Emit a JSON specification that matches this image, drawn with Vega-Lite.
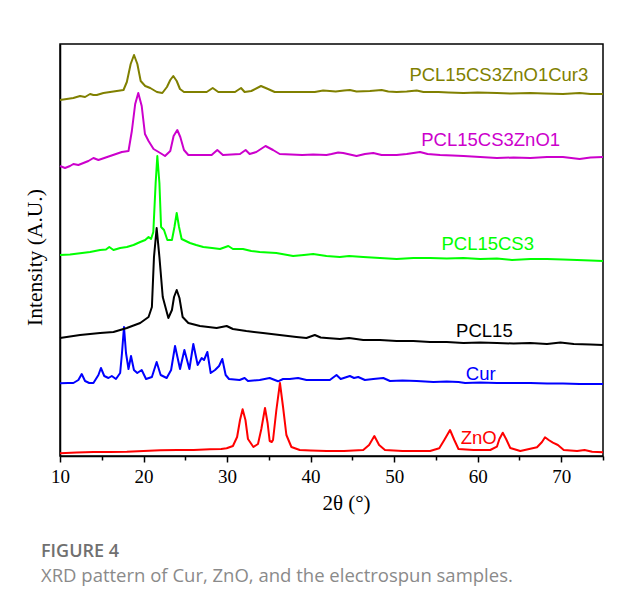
{
  "$schema": "https://vega.github.io/schema/vega-lite/v6.json",
  "width": 543,
  "height": 412,
  "autosize": {"type": "none"},
  "padding": {"left": 60, "top": 44, "right": 14, "bottom": 152},
  "background": "white",
  "config": {
    "view": {"stroke": "black", "strokeWidth": 1.5},
    "axis": {
      "domainColor": "black",
      "domainWidth": 1.5,
      "tickColor": "black",
      "tickWidth": 1.5,
      "grid": false,
      "labelFont": "Liberation Serif",
      "labelFontSize": 19,
      "labelColor": "black",
      "titleFont": "Liberation Serif",
      "titleFontSize": 21,
      "titleFontWeight": "normal",
      "titleColor": "black"
    }
  },
  "title": {
    "text": "FIGURE 4",
    "subtitle": "XRD pattern of Cur, ZnO, and the electrospun samples.",
    "orient": "bottom",
    "anchor": "start",
    "frame": "group",
    "dx": -19,
    "offset": 30,
    "font": "Open Sans",
    "fontSize": 18,
    "fontWeight": 600,
    "color": "#707070",
    "subtitleFont": "Open Sans",
    "subtitleFontSize": 18.5,
    "subtitleColor": "#8a8a8a",
    "subtitlePadding": 6
  },
  "datasets": {
    "patterns": [
      {"sample": "Cur", "twoTheta": 10, "intensity": 72.7},
      {"sample": "Cur", "twoTheta": 11.0, "intensity": 73},
      {"sample": "Cur", "twoTheta": 11.6, "intensity": 73},
      {"sample": "Cur", "twoTheta": 12.2, "intensity": 76},
      {"sample": "Cur", "twoTheta": 12.6, "intensity": 82},
      {"sample": "Cur", "twoTheta": 13.0, "intensity": 75},
      {"sample": "Cur", "twoTheta": 13.5, "intensity": 73},
      {"sample": "Cur", "twoTheta": 14.0, "intensity": 73},
      {"sample": "Cur", "twoTheta": 14.6, "intensity": 81},
      {"sample": "Cur", "twoTheta": 14.9, "intensity": 88},
      {"sample": "Cur", "twoTheta": 15.3, "intensity": 80},
      {"sample": "Cur", "twoTheta": 15.8, "intensity": 78},
      {"sample": "Cur", "twoTheta": 16.2, "intensity": 80},
      {"sample": "Cur", "twoTheta": 16.7, "intensity": 77},
      {"sample": "Cur", "twoTheta": 17.2, "intensity": 83},
      {"sample": "Cur", "twoTheta": 17.42, "intensity": 103},
      {"sample": "Cur", "twoTheta": 17.66, "intensity": 129},
      {"sample": "Cur", "twoTheta": 17.9, "intensity": 103},
      {"sample": "Cur", "twoTheta": 18.2, "intensity": 87},
      {"sample": "Cur", "twoTheta": 18.5, "intensity": 100},
      {"sample": "Cur", "twoTheta": 18.85, "intensity": 86},
      {"sample": "Cur", "twoTheta": 19.25, "intensity": 83},
      {"sample": "Cur", "twoTheta": 19.78, "intensity": 86},
      {"sample": "Cur", "twoTheta": 20.3, "intensity": 77},
      {"sample": "Cur", "twoTheta": 21.0, "intensity": 79},
      {"sample": "Cur", "twoTheta": 21.57, "intensity": 94},
      {"sample": "Cur", "twoTheta": 22.05, "intensity": 81},
      {"sample": "Cur", "twoTheta": 22.77, "intensity": 78},
      {"sample": "Cur", "twoTheta": 23.3, "intensity": 86},
      {"sample": "Cur", "twoTheta": 23.77, "intensity": 110},
      {"sample": "Cur", "twoTheta": 24.37, "intensity": 87},
      {"sample": "Cur", "twoTheta": 24.89, "intensity": 106},
      {"sample": "Cur", "twoTheta": 25.49, "intensity": 87},
      {"sample": "Cur", "twoTheta": 25.96, "intensity": 112},
      {"sample": "Cur", "twoTheta": 26.48, "intensity": 91},
      {"sample": "Cur", "twoTheta": 26.96, "intensity": 98},
      {"sample": "Cur", "twoTheta": 27.24, "intensity": 96},
      {"sample": "Cur", "twoTheta": 27.64, "intensity": 104},
      {"sample": "Cur", "twoTheta": 28.04, "intensity": 83},
      {"sample": "Cur", "twoTheta": 28.56, "intensity": 86},
      {"sample": "Cur", "twoTheta": 29.04, "intensity": 90},
      {"sample": "Cur", "twoTheta": 29.43, "intensity": 97},
      {"sample": "Cur", "twoTheta": 29.83, "intensity": 81},
      {"sample": "Cur", "twoTheta": 30.23, "intensity": 77},
      {"sample": "Cur", "twoTheta": 31.5, "intensity": 76},
      {"sample": "Cur", "twoTheta": 32.1, "intensity": 78},
      {"sample": "Cur", "twoTheta": 32.5, "intensity": 75},
      {"sample": "Cur", "twoTheta": 33.9, "intensity": 76},
      {"sample": "Cur", "twoTheta": 35.1, "intensity": 78},
      {"sample": "Cur", "twoTheta": 36.1, "intensity": 74.7},
      {"sample": "Cur", "twoTheta": 36.7, "intensity": 77},
      {"sample": "Cur", "twoTheta": 37.5, "intensity": 77},
      {"sample": "Cur", "twoTheta": 38.5, "intensity": 78},
      {"sample": "Cur", "twoTheta": 39.5, "intensity": 76},
      {"sample": "Cur", "twoTheta": 41.1, "intensity": 76},
      {"sample": "Cur", "twoTheta": 42.3, "intensity": 76},
      {"sample": "Cur", "twoTheta": 43.1, "intensity": 81},
      {"sample": "Cur", "twoTheta": 43.6, "intensity": 77},
      {"sample": "Cur", "twoTheta": 44.7, "intensity": 80},
      {"sample": "Cur", "twoTheta": 45.2, "intensity": 78},
      {"sample": "Cur", "twoTheta": 45.7, "intensity": 79},
      {"sample": "Cur", "twoTheta": 46.5, "intensity": 76},
      {"sample": "Cur", "twoTheta": 47.5, "intensity": 77},
      {"sample": "Cur", "twoTheta": 48.7, "intensity": 78},
      {"sample": "Cur", "twoTheta": 49.5, "intensity": 75},
      {"sample": "Cur", "twoTheta": 51.0, "intensity": 75.5},
      {"sample": "Cur", "twoTheta": 52.7, "intensity": 75},
      {"sample": "Cur", "twoTheta": 54.7, "intensity": 74},
      {"sample": "Cur", "twoTheta": 56.3, "intensity": 74.5},
      {"sample": "Cur", "twoTheta": 57.7, "intensity": 74},
      {"sample": "Cur", "twoTheta": 58.5, "intensity": 73},
      {"sample": "Cur", "twoTheta": 60.3, "intensity": 73.5},
      {"sample": "Cur", "twoTheta": 62.3, "intensity": 73},
      {"sample": "Cur", "twoTheta": 64.3, "intensity": 73},
      {"sample": "Cur", "twoTheta": 66.3, "intensity": 73},
      {"sample": "Cur", "twoTheta": 68.3, "intensity": 72.5},
      {"sample": "Cur", "twoTheta": 70.2, "intensity": 72.5},
      {"sample": "Cur", "twoTheta": 72.2, "intensity": 72},
      {"sample": "Cur", "twoTheta": 75, "intensity": 72},

      {"sample": "ZnO", "twoTheta": 10, "intensity": 2.7},
      {"sample": "ZnO", "twoTheta": 12, "intensity": 3.5},
      {"sample": "ZnO", "twoTheta": 14, "intensity": 4},
      {"sample": "ZnO", "twoTheta": 16, "intensity": 4},
      {"sample": "ZnO", "twoTheta": 18, "intensity": 4.3},
      {"sample": "ZnO", "twoTheta": 20, "intensity": 5},
      {"sample": "ZnO", "twoTheta": 22, "intensity": 5.7},
      {"sample": "ZnO", "twoTheta": 24, "intensity": 6},
      {"sample": "ZnO", "twoTheta": 26, "intensity": 6},
      {"sample": "ZnO", "twoTheta": 27.95, "intensity": 6.7},
      {"sample": "ZnO", "twoTheta": 29.3, "intensity": 7},
      {"sample": "ZnO", "twoTheta": 29.95, "intensity": 7.7},
      {"sample": "ZnO", "twoTheta": 30.7, "intensity": 10},
      {"sample": "ZnO", "twoTheta": 31.2, "intensity": 19},
      {"sample": "ZnO", "twoTheta": 31.55, "intensity": 36},
      {"sample": "ZnO", "twoTheta": 31.86, "intensity": 46.7},
      {"sample": "ZnO", "twoTheta": 32.2, "intensity": 36},
      {"sample": "ZnO", "twoTheta": 32.5, "intensity": 17},
      {"sample": "ZnO", "twoTheta": 33.15, "intensity": 9},
      {"sample": "ZnO", "twoTheta": 33.7, "intensity": 12},
      {"sample": "ZnO", "twoTheta": 34.1, "intensity": 27},
      {"sample": "ZnO", "twoTheta": 34.54, "intensity": 48},
      {"sample": "ZnO", "twoTheta": 34.85, "intensity": 33},
      {"sample": "ZnO", "twoTheta": 35.1, "intensity": 15},
      {"sample": "ZnO", "twoTheta": 35.35, "intensity": 14},
      {"sample": "ZnO", "twoTheta": 35.5, "intensity": 16},
      {"sample": "ZnO", "twoTheta": 35.9, "intensity": 46},
      {"sample": "ZnO", "twoTheta": 36.33, "intensity": 73},
      {"sample": "ZnO", "twoTheta": 36.7, "intensity": 49},
      {"sample": "ZnO", "twoTheta": 37.1, "intensity": 21},
      {"sample": "ZnO", "twoTheta": 37.7, "intensity": 9},
      {"sample": "ZnO", "twoTheta": 38.7, "intensity": 6},
      {"sample": "ZnO", "twoTheta": 40, "intensity": 5.5},
      {"sample": "ZnO", "twoTheta": 41.9, "intensity": 5},
      {"sample": "ZnO", "twoTheta": 44, "intensity": 5},
      {"sample": "ZnO", "twoTheta": 46.3, "intensity": 6},
      {"sample": "ZnO", "twoTheta": 47.0, "intensity": 11},
      {"sample": "ZnO", "twoTheta": 47.63, "intensity": 20},
      {"sample": "ZnO", "twoTheta": 48.2, "intensity": 11},
      {"sample": "ZnO", "twoTheta": 48.9, "intensity": 6},
      {"sample": "ZnO", "twoTheta": 51, "intensity": 5},
      {"sample": "ZnO", "twoTheta": 54.3, "intensity": 5},
      {"sample": "ZnO", "twoTheta": 55.4, "intensity": 7.7},
      {"sample": "ZnO", "twoTheta": 56.0, "intensity": 16},
      {"sample": "ZnO", "twoTheta": 56.69, "intensity": 26},
      {"sample": "ZnO", "twoTheta": 57.2, "intensity": 16},
      {"sample": "ZnO", "twoTheta": 57.7, "intensity": 7},
      {"sample": "ZnO", "twoTheta": 59.5, "intensity": 6},
      {"sample": "ZnO", "twoTheta": 61.5, "intensity": 6},
      {"sample": "ZnO", "twoTheta": 62.3, "intensity": 9.3},
      {"sample": "ZnO", "twoTheta": 62.6, "intensity": 17},
      {"sample": "ZnO", "twoTheta": 63.0, "intensity": 23.3},
      {"sample": "ZnO", "twoTheta": 63.4, "intensity": 17},
      {"sample": "ZnO", "twoTheta": 63.9, "intensity": 8},
      {"sample": "ZnO", "twoTheta": 65.1, "intensity": 5},
      {"sample": "ZnO", "twoTheta": 66.3, "intensity": 7.3},
      {"sample": "ZnO", "twoTheta": 67.1, "intensity": 8.7},
      {"sample": "ZnO", "twoTheta": 67.7, "intensity": 14},
      {"sample": "ZnO", "twoTheta": 68.06, "intensity": 18.7},
      {"sample": "ZnO", "twoTheta": 68.5, "intensity": 16},
      {"sample": "ZnO", "twoTheta": 69.0, "intensity": 13.3},
      {"sample": "ZnO", "twoTheta": 69.6, "intensity": 11},
      {"sample": "ZnO", "twoTheta": 70.3, "intensity": 6},
      {"sample": "ZnO", "twoTheta": 71.9, "intensity": 5},
      {"sample": "ZnO", "twoTheta": 72.8, "intensity": 6},
      {"sample": "ZnO", "twoTheta": 73.7, "intensity": 4.3},
      {"sample": "ZnO", "twoTheta": 75, "intensity": 3.7},

      {"sample": "PCL15CS3ZnO1Cur3", "twoTheta": 10, "intensity": 356},
      {"sample": "PCL15CS3ZnO1Cur3", "twoTheta": 10.8, "intensity": 357},
      {"sample": "PCL15CS3ZnO1Cur3", "twoTheta": 11.6, "intensity": 358},
      {"sample": "PCL15CS3ZnO1Cur3", "twoTheta": 12.4, "intensity": 360},
      {"sample": "PCL15CS3ZnO1Cur3", "twoTheta": 13.0, "intensity": 359},
      {"sample": "PCL15CS3ZnO1Cur3", "twoTheta": 13.6, "intensity": 362},
      {"sample": "PCL15CS3ZnO1Cur3", "twoTheta": 14.0, "intensity": 361},
      {"sample": "PCL15CS3ZnO1Cur3", "twoTheta": 14.4, "intensity": 361},
      {"sample": "PCL15CS3ZnO1Cur3", "twoTheta": 15.2, "intensity": 363},
      {"sample": "PCL15CS3ZnO1Cur3", "twoTheta": 16.0, "intensity": 364},
      {"sample": "PCL15CS3ZnO1Cur3", "twoTheta": 16.8, "intensity": 365},
      {"sample": "PCL15CS3ZnO1Cur3", "twoTheta": 17.6, "intensity": 366},
      {"sample": "PCL15CS3ZnO1Cur3", "twoTheta": 18.0, "intensity": 374},
      {"sample": "PCL15CS3ZnO1Cur3", "twoTheta": 18.46, "intensity": 392},
      {"sample": "PCL15CS3ZnO1Cur3", "twoTheta": 18.86, "intensity": 401},
      {"sample": "PCL15CS3ZnO1Cur3", "twoTheta": 19.26, "intensity": 392},
      {"sample": "PCL15CS3ZnO1Cur3", "twoTheta": 19.66, "intensity": 375},
      {"sample": "PCL15CS3ZnO1Cur3", "twoTheta": 20.2, "intensity": 370},
      {"sample": "PCL15CS3ZnO1Cur3", "twoTheta": 20.8, "intensity": 368},
      {"sample": "PCL15CS3ZnO1Cur3", "twoTheta": 21.6, "intensity": 364},
      {"sample": "PCL15CS3ZnO1Cur3", "twoTheta": 22.25, "intensity": 363},
      {"sample": "PCL15CS3ZnO1Cur3", "twoTheta": 22.8, "intensity": 369},
      {"sample": "PCL15CS3ZnO1Cur3", "twoTheta": 23.2, "intensity": 376},
      {"sample": "PCL15CS3ZnO1Cur3", "twoTheta": 23.56, "intensity": 380},
      {"sample": "PCL15CS3ZnO1Cur3", "twoTheta": 23.97, "intensity": 375},
      {"sample": "PCL15CS3ZnO1Cur3", "twoTheta": 24.36, "intensity": 367},
      {"sample": "PCL15CS3ZnO1Cur3", "twoTheta": 24.84, "intensity": 364},
      {"sample": "PCL15CS3ZnO1Cur3", "twoTheta": 26.0, "intensity": 364},
      {"sample": "PCL15CS3ZnO1Cur3", "twoTheta": 27.56, "intensity": 364},
      {"sample": "PCL15CS3ZnO1Cur3", "twoTheta": 28.28, "intensity": 368},
      {"sample": "PCL15CS3ZnO1Cur3", "twoTheta": 28.95, "intensity": 364},
      {"sample": "PCL15CS3ZnO1Cur3", "twoTheta": 30.95, "intensity": 364},
      {"sample": "PCL15CS3ZnO1Cur3", "twoTheta": 31.67, "intensity": 368},
      {"sample": "PCL15CS3ZnO1Cur3", "twoTheta": 32.1, "intensity": 364},
      {"sample": "PCL15CS3ZnO1Cur3", "twoTheta": 32.9, "intensity": 365},
      {"sample": "PCL15CS3ZnO1Cur3", "twoTheta": 34.06, "intensity": 370},
      {"sample": "PCL15CS3ZnO1Cur3", "twoTheta": 34.9, "intensity": 367},
      {"sample": "PCL15CS3ZnO1Cur3", "twoTheta": 35.7, "intensity": 364},
      {"sample": "PCL15CS3ZnO1Cur3", "twoTheta": 38, "intensity": 364},
      {"sample": "PCL15CS3ZnO1Cur3", "twoTheta": 40.5, "intensity": 364},
      {"sample": "PCL15CS3ZnO1Cur3", "twoTheta": 41.5, "intensity": 365.5},
      {"sample": "PCL15CS3ZnO1Cur3", "twoTheta": 42.3, "intensity": 365},
      {"sample": "PCL15CS3ZnO1Cur3", "twoTheta": 43.0, "intensity": 364.5},
      {"sample": "PCL15CS3ZnO1Cur3", "twoTheta": 44.0, "intensity": 365.5},
      {"sample": "PCL15CS3ZnO1Cur3", "twoTheta": 44.7, "intensity": 366},
      {"sample": "PCL15CS3ZnO1Cur3", "twoTheta": 45.5, "intensity": 364.5},
      {"sample": "PCL15CS3ZnO1Cur3", "twoTheta": 47.1, "intensity": 365},
      {"sample": "PCL15CS3ZnO1Cur3", "twoTheta": 48.5, "intensity": 366},
      {"sample": "PCL15CS3ZnO1Cur3", "twoTheta": 49.3, "intensity": 364.5},
      {"sample": "PCL15CS3ZnO1Cur3", "twoTheta": 50.3, "intensity": 364},
      {"sample": "PCL15CS3ZnO1Cur3", "twoTheta": 51.5, "intensity": 364.5},
      {"sample": "PCL15CS3ZnO1Cur3", "twoTheta": 52.7, "intensity": 365.5},
      {"sample": "PCL15CS3ZnO1Cur3", "twoTheta": 53.5, "intensity": 364},
      {"sample": "PCL15CS3ZnO1Cur3", "twoTheta": 55.3, "intensity": 364},
      {"sample": "PCL15CS3ZnO1Cur3", "twoTheta": 56.5, "intensity": 363.5},
      {"sample": "PCL15CS3ZnO1Cur3", "twoTheta": 58.3, "intensity": 363},
      {"sample": "PCL15CS3ZnO1Cur3", "twoTheta": 60, "intensity": 363.5},
      {"sample": "PCL15CS3ZnO1Cur3", "twoTheta": 62.3, "intensity": 363},
      {"sample": "PCL15CS3ZnO1Cur3", "twoTheta": 64, "intensity": 362.5},
      {"sample": "PCL15CS3ZnO1Cur3", "twoTheta": 66.3, "intensity": 363},
      {"sample": "PCL15CS3ZnO1Cur3", "twoTheta": 68, "intensity": 362.5},
      {"sample": "PCL15CS3ZnO1Cur3", "twoTheta": 70.2, "intensity": 362},
      {"sample": "PCL15CS3ZnO1Cur3", "twoTheta": 72.2, "intensity": 363},
      {"sample": "PCL15CS3ZnO1Cur3", "twoTheta": 73.5, "intensity": 362},
      {"sample": "PCL15CS3ZnO1Cur3", "twoTheta": 75, "intensity": 362},

      {"sample": "PCL15CS3ZnO1", "twoTheta": 10, "intensity": 290},
      {"sample": "PCL15CS3ZnO1", "twoTheta": 10.6, "intensity": 288},
      {"sample": "PCL15CS3ZnO1", "twoTheta": 11.2, "intensity": 290},
      {"sample": "PCL15CS3ZnO1", "twoTheta": 11.6, "intensity": 292},
      {"sample": "PCL15CS3ZnO1", "twoTheta": 12.2, "intensity": 291},
      {"sample": "PCL15CS3ZnO1", "twoTheta": 12.8, "intensity": 293},
      {"sample": "PCL15CS3ZnO1", "twoTheta": 13.4, "intensity": 295},
      {"sample": "PCL15CS3ZnO1", "twoTheta": 14.0, "intensity": 298},
      {"sample": "PCL15CS3ZnO1", "twoTheta": 14.6, "intensity": 296},
      {"sample": "PCL15CS3ZnO1", "twoTheta": 15.3, "intensity": 298},
      {"sample": "PCL15CS3ZnO1", "twoTheta": 16.0, "intensity": 300},
      {"sample": "PCL15CS3ZnO1", "twoTheta": 16.7, "intensity": 302},
      {"sample": "PCL15CS3ZnO1", "twoTheta": 17.4, "intensity": 304},
      {"sample": "PCL15CS3ZnO1", "twoTheta": 18.2, "intensity": 305},
      {"sample": "PCL15CS3ZnO1", "twoTheta": 18.6, "intensity": 325},
      {"sample": "PCL15CS3ZnO1", "twoTheta": 19.0, "intensity": 352},
      {"sample": "PCL15CS3ZnO1", "twoTheta": 19.37, "intensity": 363},
      {"sample": "PCL15CS3ZnO1", "twoTheta": 19.78, "intensity": 350},
      {"sample": "PCL15CS3ZnO1", "twoTheta": 20.17, "intensity": 322},
      {"sample": "PCL15CS3ZnO1", "twoTheta": 20.6, "intensity": 315},
      {"sample": "PCL15CS3ZnO1", "twoTheta": 21.2, "intensity": 307},
      {"sample": "PCL15CS3ZnO1", "twoTheta": 22.0, "intensity": 303},
      {"sample": "PCL15CS3ZnO1", "twoTheta": 22.57, "intensity": 300},
      {"sample": "PCL15CS3ZnO1", "twoTheta": 23.2, "intensity": 305},
      {"sample": "PCL15CS3ZnO1", "twoTheta": 23.6, "intensity": 320},
      {"sample": "PCL15CS3ZnO1", "twoTheta": 24.04, "intensity": 326},
      {"sample": "PCL15CS3ZnO1", "twoTheta": 24.4, "intensity": 319},
      {"sample": "PCL15CS3ZnO1", "twoTheta": 24.84, "intensity": 306},
      {"sample": "PCL15CS3ZnO1", "twoTheta": 25.36, "intensity": 301},
      {"sample": "PCL15CS3ZnO1", "twoTheta": 28.15, "intensity": 301},
      {"sample": "PCL15CS3ZnO1", "twoTheta": 28.83, "intensity": 306},
      {"sample": "PCL15CS3ZnO1", "twoTheta": 29.5, "intensity": 301},
      {"sample": "PCL15CS3ZnO1", "twoTheta": 31.55, "intensity": 302},
      {"sample": "PCL15CS3ZnO1", "twoTheta": 32.22, "intensity": 306},
      {"sample": "PCL15CS3ZnO1", "twoTheta": 32.7, "intensity": 302},
      {"sample": "PCL15CS3ZnO1", "twoTheta": 33.5, "intensity": 304},
      {"sample": "PCL15CS3ZnO1", "twoTheta": 34.6, "intensity": 310},
      {"sample": "PCL15CS3ZnO1", "twoTheta": 35.5, "intensity": 306},
      {"sample": "PCL15CS3ZnO1", "twoTheta": 36.3, "intensity": 302},
      {"sample": "PCL15CS3ZnO1", "twoTheta": 39, "intensity": 301},
      {"sample": "PCL15CS3ZnO1", "twoTheta": 40.3, "intensity": 301.5},
      {"sample": "PCL15CS3ZnO1", "twoTheta": 41.9, "intensity": 301},
      {"sample": "PCL15CS3ZnO1", "twoTheta": 42.5, "intensity": 302},
      {"sample": "PCL15CS3ZnO1", "twoTheta": 43.3, "intensity": 303.5},
      {"sample": "PCL15CS3ZnO1", "twoTheta": 43.9, "intensity": 303},
      {"sample": "PCL15CS3ZnO1", "twoTheta": 45.5, "intensity": 300},
      {"sample": "PCL15CS3ZnO1", "twoTheta": 46.5, "intensity": 302},
      {"sample": "PCL15CS3ZnO1", "twoTheta": 47.5, "intensity": 303},
      {"sample": "PCL15CS3ZnO1", "twoTheta": 48.5, "intensity": 301},
      {"sample": "PCL15CS3ZnO1", "twoTheta": 50.3, "intensity": 301},
      {"sample": "PCL15CS3ZnO1", "twoTheta": 51.5, "intensity": 302},
      {"sample": "PCL15CS3ZnO1", "twoTheta": 53.1, "intensity": 304},
      {"sample": "PCL15CS3ZnO1", "twoTheta": 54.0, "intensity": 302},
      {"sample": "PCL15CS3ZnO1", "twoTheta": 55.5, "intensity": 301},
      {"sample": "PCL15CS3ZnO1", "twoTheta": 57.0, "intensity": 300.5},
      {"sample": "PCL15CS3ZnO1", "twoTheta": 58.3, "intensity": 300},
      {"sample": "PCL15CS3ZnO1", "twoTheta": 60.3, "intensity": 299},
      {"sample": "PCL15CS3ZnO1", "twoTheta": 62.3, "intensity": 298},
      {"sample": "PCL15CS3ZnO1", "twoTheta": 64.3, "intensity": 298.5},
      {"sample": "PCL15CS3ZnO1", "twoTheta": 66.3, "intensity": 298},
      {"sample": "PCL15CS3ZnO1", "twoTheta": 68.3, "intensity": 299},
      {"sample": "PCL15CS3ZnO1", "twoTheta": 70.2, "intensity": 299},
      {"sample": "PCL15CS3ZnO1", "twoTheta": 72.2, "intensity": 297},
      {"sample": "PCL15CS3ZnO1", "twoTheta": 73.5, "intensity": 298.5},
      {"sample": "PCL15CS3ZnO1", "twoTheta": 75, "intensity": 299},

      {"sample": "PCL15CS3", "twoTheta": 10, "intensity": 201},
      {"sample": "PCL15CS3", "twoTheta": 11.2, "intensity": 201.5},
      {"sample": "PCL15CS3", "twoTheta": 12.4, "intensity": 202.7},
      {"sample": "PCL15CS3", "twoTheta": 13.6, "intensity": 204},
      {"sample": "PCL15CS3", "twoTheta": 14.8, "intensity": 206},
      {"sample": "PCL15CS3", "twoTheta": 15.5, "intensity": 206.5},
      {"sample": "PCL15CS3", "twoTheta": 15.9, "intensity": 209},
      {"sample": "PCL15CS3", "twoTheta": 16.4, "intensity": 206},
      {"sample": "PCL15CS3", "twoTheta": 17.2, "intensity": 208},
      {"sample": "PCL15CS3", "twoTheta": 18.0, "intensity": 209},
      {"sample": "PCL15CS3", "twoTheta": 18.8, "intensity": 211},
      {"sample": "PCL15CS3", "twoTheta": 19.6, "intensity": 214},
      {"sample": "PCL15CS3", "twoTheta": 20.2, "intensity": 216},
      {"sample": "PCL15CS3", "twoTheta": 20.6, "intensity": 219},
      {"sample": "PCL15CS3", "twoTheta": 20.9, "intensity": 217},
      {"sample": "PCL15CS3", "twoTheta": 21.17, "intensity": 224},
      {"sample": "PCL15CS3", "twoTheta": 21.45, "intensity": 273},
      {"sample": "PCL15CS3", "twoTheta": 21.65, "intensity": 300},
      {"sample": "PCL15CS3", "twoTheta": 21.9, "intensity": 273},
      {"sample": "PCL15CS3", "twoTheta": 22.1, "intensity": 229},
      {"sample": "PCL15CS3", "twoTheta": 22.45, "intensity": 226},
      {"sample": "PCL15CS3", "twoTheta": 22.85, "intensity": 216},
      {"sample": "PCL15CS3", "twoTheta": 23.4, "intensity": 216},
      {"sample": "PCL15CS3", "twoTheta": 23.7, "intensity": 229},
      {"sample": "PCL15CS3", "twoTheta": 23.97, "intensity": 243},
      {"sample": "PCL15CS3", "twoTheta": 24.25, "intensity": 229},
      {"sample": "PCL15CS3", "twoTheta": 24.56, "intensity": 217},
      {"sample": "PCL15CS3", "twoTheta": 25.56, "intensity": 213},
      {"sample": "PCL15CS3", "twoTheta": 26.3, "intensity": 211},
      {"sample": "PCL15CS3", "twoTheta": 27.15, "intensity": 209},
      {"sample": "PCL15CS3", "twoTheta": 28.2, "intensity": 208},
      {"sample": "PCL15CS3", "twoTheta": 29.15, "intensity": 207},
      {"sample": "PCL15CS3", "twoTheta": 30.15, "intensity": 210},
      {"sample": "PCL15CS3", "twoTheta": 30.7, "intensity": 207},
      {"sample": "PCL15CS3", "twoTheta": 31.9, "intensity": 207},
      {"sample": "PCL15CS3", "twoTheta": 32.9, "intensity": 205},
      {"sample": "PCL15CS3", "twoTheta": 33.9, "intensity": 204},
      {"sample": "PCL15CS3", "twoTheta": 35.9, "intensity": 203},
      {"sample": "PCL15CS3", "twoTheta": 37.9, "intensity": 200},
      {"sample": "PCL15CS3", "twoTheta": 39.2, "intensity": 201},
      {"sample": "PCL15CS3", "twoTheta": 40.3, "intensity": 202},
      {"sample": "PCL15CS3", "twoTheta": 41.9, "intensity": 200},
      {"sample": "PCL15CS3", "twoTheta": 43.5, "intensity": 199},
      {"sample": "PCL15CS3", "twoTheta": 44.6, "intensity": 200},
      {"sample": "PCL15CS3", "twoTheta": 46.3, "intensity": 199},
      {"sample": "PCL15CS3", "twoTheta": 48.3, "intensity": 198},
      {"sample": "PCL15CS3", "twoTheta": 50.3, "intensity": 197},
      {"sample": "PCL15CS3", "twoTheta": 52.3, "intensity": 198},
      {"sample": "PCL15CS3", "twoTheta": 54.3, "intensity": 198},
      {"sample": "PCL15CS3", "twoTheta": 56.3, "intensity": 197.5},
      {"sample": "PCL15CS3", "twoTheta": 58.3, "intensity": 198},
      {"sample": "PCL15CS3", "twoTheta": 60.3, "intensity": 197},
      {"sample": "PCL15CS3", "twoTheta": 62.3, "intensity": 197.5},
      {"sample": "PCL15CS3", "twoTheta": 64.1, "intensity": 196},
      {"sample": "PCL15CS3", "twoTheta": 66.3, "intensity": 197},
      {"sample": "PCL15CS3", "twoTheta": 68.3, "intensity": 197},
      {"sample": "PCL15CS3", "twoTheta": 70.2, "intensity": 196.5},
      {"sample": "PCL15CS3", "twoTheta": 71.9, "intensity": 196},
      {"sample": "PCL15CS3", "twoTheta": 73.5, "intensity": 195.5},
      {"sample": "PCL15CS3", "twoTheta": 75, "intensity": 195},

      {"sample": "PCL15", "twoTheta": 10, "intensity": 118},
      {"sample": "PCL15", "twoTheta": 11.2, "intensity": 119.5},
      {"sample": "PCL15", "twoTheta": 12.4, "intensity": 121},
      {"sample": "PCL15", "twoTheta": 13.6, "intensity": 122},
      {"sample": "PCL15", "twoTheta": 14.8, "intensity": 123},
      {"sample": "PCL15", "twoTheta": 15.6, "intensity": 123.5},
      {"sample": "PCL15", "twoTheta": 16.4, "intensity": 124},
      {"sample": "PCL15", "twoTheta": 17.2, "intensity": 126},
      {"sample": "PCL15", "twoTheta": 18.0, "intensity": 128},
      {"sample": "PCL15", "twoTheta": 18.8, "intensity": 130.5},
      {"sample": "PCL15", "twoTheta": 19.6, "intensity": 133},
      {"sample": "PCL15", "twoTheta": 20.1, "intensity": 136},
      {"sample": "PCL15", "twoTheta": 20.6, "intensity": 139},
      {"sample": "PCL15", "twoTheta": 21.0, "intensity": 149},
      {"sample": "PCL15", "twoTheta": 21.25, "intensity": 199},
      {"sample": "PCL15", "twoTheta": 21.57, "intensity": 228},
      {"sample": "PCL15", "twoTheta": 21.9, "intensity": 199},
      {"sample": "PCL15", "twoTheta": 22.3, "intensity": 159},
      {"sample": "PCL15", "twoTheta": 22.97, "intensity": 138},
      {"sample": "PCL15", "twoTheta": 23.4, "intensity": 146},
      {"sample": "PCL15", "twoTheta": 23.65, "intensity": 159},
      {"sample": "PCL15", "twoTheta": 23.97, "intensity": 166},
      {"sample": "PCL15", "twoTheta": 24.3, "intensity": 158},
      {"sample": "PCL15", "twoTheta": 24.68, "intensity": 139},
      {"sample": "PCL15", "twoTheta": 25.36, "intensity": 133},
      {"sample": "PCL15", "twoTheta": 26.75, "intensity": 130},
      {"sample": "PCL15", "twoTheta": 28.75, "intensity": 128},
      {"sample": "PCL15", "twoTheta": 29.95, "intensity": 130},
      {"sample": "PCL15", "twoTheta": 30.7, "intensity": 127},
      {"sample": "PCL15", "twoTheta": 32.3, "intensity": 125},
      {"sample": "PCL15", "twoTheta": 34.3, "intensity": 123},
      {"sample": "PCL15", "twoTheta": 36.3, "intensity": 121},
      {"sample": "PCL15", "twoTheta": 38.3, "intensity": 119},
      {"sample": "PCL15", "twoTheta": 39.5, "intensity": 118},
      {"sample": "PCL15", "twoTheta": 40.5, "intensity": 121},
      {"sample": "PCL15", "twoTheta": 41.2, "intensity": 118.5},
      {"sample": "PCL15", "twoTheta": 41.9, "intensity": 118},
      {"sample": "PCL15", "twoTheta": 43.5, "intensity": 117},
      {"sample": "PCL15", "twoTheta": 44.6, "intensity": 118},
      {"sample": "PCL15", "twoTheta": 46.3, "intensity": 116},
      {"sample": "PCL15", "twoTheta": 48.3, "intensity": 116},
      {"sample": "PCL15", "twoTheta": 50.3, "intensity": 115},
      {"sample": "PCL15", "twoTheta": 52.3, "intensity": 115},
      {"sample": "PCL15", "twoTheta": 54.3, "intensity": 114},
      {"sample": "PCL15", "twoTheta": 56.3, "intensity": 114},
      {"sample": "PCL15", "twoTheta": 58.3, "intensity": 113},
      {"sample": "PCL15", "twoTheta": 60.3, "intensity": 113.5},
      {"sample": "PCL15", "twoTheta": 62.3, "intensity": 113},
      {"sample": "PCL15", "twoTheta": 64.3, "intensity": 112.5},
      {"sample": "PCL15", "twoTheta": 66.3, "intensity": 113},
      {"sample": "PCL15", "twoTheta": 68.3, "intensity": 112},
      {"sample": "PCL15", "twoTheta": 69.9, "intensity": 113.5},
      {"sample": "PCL15", "twoTheta": 71.5, "intensity": 112},
      {"sample": "PCL15", "twoTheta": 73.5, "intensity": 111.5},
      {"sample": "PCL15", "twoTheta": 75, "intensity": 111}
    ],
    "labels": [
      {"sample": "PCL15CS3ZnO1Cur3", "twoTheta": 73.24, "intensity": 374.7},
      {"sample": "PCL15CS3ZnO1", "twoTheta": 69.86, "intensity": 310.3},
      {"sample": "PCL15CS3", "twoTheta": 66.74, "intensity": 206},
      {"sample": "PCL15", "twoTheta": 64.19, "intensity": 119.3},
      {"sample": "Cur", "twoTheta": 62.15, "intensity": 76},
      {"sample": "ZnO", "twoTheta": 62.27, "intensity": 11.7}
    ]
  },
  "encoding": {
    "x": {
      "field": "twoTheta",
      "type": "quantitative",
      "scale": {"domain": [10, 75], "nice": false, "zero": false},
      "axis": {
        "title": "2θ (°)",
        "titleX": 286,
        "values": [10, 15, 20, 25, 30, 35, 40, 45, 50, 55, 60, 65, 70, 75],
        "labelExpr": "datum.value % 10 === 0 && datum.value < 75 ? datum.label : ''",
        "tickSize": {"condition": {"test": "datum.value % 10 === 0", "value": 6}, "value": 4},
        "labelPadding": 5,
        "labelFlush": false,
        "labelOverlap": false,
        "titlePadding": 6
      }
    },
    "y": {
      "field": "intensity",
      "type": "quantitative",
      "scale": {"domain": [0, 412], "nice": false, "zero": false},
      "axis": {
        "title": "Intensity (A.U.)",
        "titleY": 213,
        "titleFontSize": 21.5,
        "ticks": false,
        "labels": false,
        "titlePadding": 14
      }
    },
    "color": {
      "field": "sample",
      "type": "nominal",
      "scale": {
        "domain": ["PCL15CS3ZnO1Cur3", "PCL15CS3ZnO1", "PCL15CS3", "PCL15", "Cur", "ZnO"],
        "range": ["#808000", "#cc00cc", "#00ff00", "#000000", "#0000ff", "#ff0000"]
      },
      "legend": null
    }
  },
  "layer": [
    {
      "data": {"name": "patterns"},
      "mark": {"type": "line", "strokeWidth": 2, "strokeJoin": "round"}
    },
    {
      "data": {"name": "labels"},
      "mark": {
        "type": "text",
        "align": "right",
        "baseline": "alphabetic",
        "font": "Liberation Sans",
        "fontSize": 18.5
      },
      "encoding": {"text": {"field": "sample"}}
    }
  ]
}
